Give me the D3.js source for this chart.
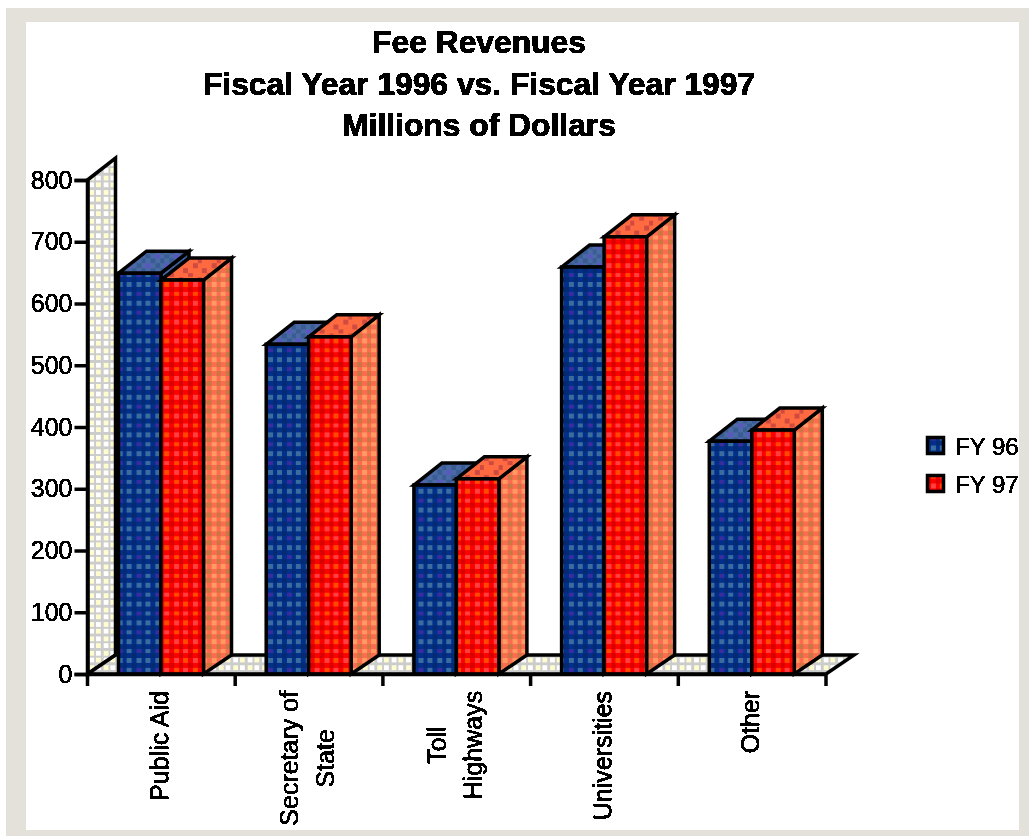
<!DOCTYPE html>
<html>
<head>
<meta charset="utf-8">
<script src="https://cdn.jsdelivr.net/npm/d3@7/dist/d3.min.js"></script>
<style>
html,body{margin:0;padding:0;background:#fff;overflow:hidden}
svg{display:block}
text{font-family:"Liberation Sans",Arial,sans-serif;fill:#000}
</style>
</head>
<body>
<div id="chart"></div>
<script>
const titleLines = ["Fee Revenues", "Fiscal Year 1996 vs. Fiscal Year 1997", "Millions of Dollars"];
const categories = ["Public Aid", "Secretary of State", "Toll Highways", "Universities", "Other"];
const categoryLines = [["Public Aid"], ["Secretary of", "State"], ["Toll", "Highways"], ["Universities"], ["Other"]];
const seriesNames = ["FY 96", "FY 97"];
const fy96 = [649, 534, 306, 659, 377];
const fy97 = [638, 546, 316, 708, 395];
const yTicks = [0, 100, 200, 300, 400, 500, 600, 700, 800];

const W = 1029, H = 836;
const svg = d3.select("#chart").append("svg").attr("width", W).attr("height", H);
const defs = svg.append("defs");

// aliased text, like the low-resolution original
const f = defs.append("filter").attr("id", "alias").attr("x", "-5%").attr("y", "-5%").attr("width", "110%").attr("height", "110%");
f.append("feComponentTransfer").append("feFuncA").attr("type", "discrete").attr("tableValues", "0 1 1");

function dither(id, cell, rows) {
  const n = rows.length, m = rows[0].length;
  const p = defs.append("pattern").attr("id", id).attr("patternUnits", "userSpaceOnUse")
    .attr("width", m * cell).attr("height", n * cell);
  rows.forEach((r, i) => r.forEach((c, j) => {
    p.append("rect").attr("x", j * cell).attr("y", i * cell).attr("width", cell).attr("height", cell)
      .attr("fill", c).attr("shape-rendering", "crispEdges");
  }));
}
const b = "#00308c", b2 = "#062a72", bl = "#3c6c9c", bp = "#3a2c9c";
dither("blueFront", 4.7, [
  [b, bl, b, bl],
  [b2, b, b2, b],
  [b, bp, b, bl],
  [b2, b, b2, b]]);
const r = "#ff0000", r2 = "#d80000", rl = "#ff4040", ro = "#ff4a00";
dither("redFront", 4.7, [
  [r, rl, r, ro],
  [r2, r, r2, r],
  [r, ro, r, rl],
  [r2, r, r2, r]]);
const s = "#ff6a50", s2 = "#c87840", sl = "#ff9a60";
dither("redSide", 4.7, [
  [s, sl, s, sl],
  [s2, s, s2, s],
  [s, sl, s, sl],
  [s2, s, s2, s]]);
const t = "#ff6a40", t2 = "#d04a40";
dither("redTop", 4.7, [
  [t, t2, t, t],
  [t, t, t, t2],
  [t2, t, t, t],
  [t, t, t2, t]]);
const u = "#4a6aa4", u2 = "#3a5c94", u3 = "#5a58c0";
dither("blueTop", 4.7, [
  [u, u2, u, u3],
  [u2, u, u2, u],
  [u, u3, u, u2],
  [u2, u, u2, u]]);
const g = "#cccccc", y1 = "#fffdd0", wh = "#ffffff";
dither("wall", 2.4, [
  [g, g, g, g, g, g],
  [g, y1, y1, g, wh, wh],
  [g, y1, y1, g, wh, wh],
  [g, g, g, g, g, g],
  [g, wh, wh, g, y1, y1],
  [g, wh, wh, g, y1, y1]]);

const xLeft = 87.5, xRight = 826, yBase = 674, yTop = 180;
const depthX = 28, depthY = 22, floorDY = 19, lineW = 3.5;

const x0 = d3.scaleBand().domain(categories).range([xLeft, xRight]);
const x1 = d3.scaleBand().domain(seriesNames).range([31, 116]);
const y = d3.scaleLinear().domain([0, 800]).range([yBase, yTop]);

const line = d3.line();
const poly = pts => line(pts) + "Z";

// wall and floor
svg.append("path")
  .attr("d", poly([[xLeft, y(800)], [xLeft + depthX, y(800) - depthY], [xLeft + depthX, yBase - floorDY], [xLeft, yBase]]))
  .attr("fill", "url(#wall)").attr("stroke", "#000").attr("stroke-width", lineW);
svg.append("path")
  .attr("d", poly([[xLeft, yBase], [xLeft + depthX, yBase - floorDY], [xRight + depthX, yBase - floorDY], [xRight, yBase]]))
  .attr("fill", "url(#wall)").attr("stroke", "#000").attr("stroke-width", lineW);

// bars
const seriesValues = [fy96, fy97];
const styles = [
  {front: "url(#blueFront)", top: "url(#blueTop)", side: "url(#blueTop)"},
  {front: "url(#redFront)", top: "url(#redTop)", side: "url(#redSide)"}
];
const bars = svg.append("g");
categories.forEach((c, i) => {
  seriesNames.forEach((sn, k) => {
    const v = seriesValues[k][i];
    const xa = x0(c) + x1(sn), xb = xa + x1.bandwidth(), yv = y(v);
    const st = styles[k];
    const gb = bars.append("g").attr("stroke", "#000").attr("stroke-width", lineW).attr("stroke-linejoin", "miter");
    gb.append("path").attr("fill", st.side)
      .attr("d", poly([[xb, yv], [xb + depthX, yv - depthY], [xb + depthX, yBase - floorDY], [xb, yBase]]));
    gb.append("path").attr("fill", st.top)
      .attr("d", poly([[xa, yv], [xa + depthX, yv - depthY], [xb + depthX, yv - depthY], [xb, yv]]));
    gb.append("rect").attr("x", xa).attr("y", yv).attr("width", xb - xa).attr("height", yBase - yv).attr("fill", st.front);
  });
});

// axes
const yAxis = svg.append("g").attr("transform", `translate(${xLeft},0)`)
  .call(d3.axisLeft(y).tickValues(yTicks).tickSize(13).tickPadding(2).tickFormat(d3.format("d")));
yAxis.select(".domain").attr("stroke", "#000").attr("stroke-width", lineW);
yAxis.selectAll(".tick line").attr("stroke", "#000").attr("stroke-width", lineW);
yAxis.selectAll(".tick text").attr("font-size", 25).attr("font-family", '"Liberation Sans"')
  .attr("stroke", "#000").attr("stroke-width", 0.3).attr("filter", "url(#alias)");

const xAxis = svg.append("g").attr("transform", `translate(0,${yBase})`)
  .call(d3.axisBottom(x0).tickFormat("").tickSizeOuter(0).tickSize(0));
xAxis.select(".domain").attr("stroke", "#000").attr("stroke-width", lineW);
xAxis.selectAll(".tick").remove();
xAxis.selectAll("line.edge").data(categories.map(c => x0(c)).concat([xRight])).enter()
  .append("line").attr("class", "edge").attr("x1", d => d).attr("x2", d => d).attr("y1", 0).attr("y2", 12)
  .attr("stroke", "#000").attr("stroke-width", lineW);

// category labels (rotated, wrapped, centred on the longest line)
const labelTop = 691, lineGap = 36;
categories.forEach((c, i) => {
  const lines = categoryLines[i];
  const cx = x0(c) + x0.bandwidth() / 2;
  const texts = lines.map((l, j) => {
    const px = cx + (j - (lines.length - 1) / 2) * lineGap;
    return svg.append("text").attr("font-size", 25).attr("text-anchor", "middle")
      .attr("stroke", "#000").attr("stroke-width", 0.3)
      .attr("filter", "url(#alias)").attr("data-x", px).text(l);
  });
  const maxLen = d3.max(texts, t => t.node().getComputedTextLength());
  texts.forEach(t => {
    t.attr("transform", `translate(${+t.attr("data-x") + 7},${labelTop + maxLen / 2}) rotate(-90)`);
  });
});

// title
const titleY = d3.scalePoint().domain(titleLines).range([53, 136]);
svg.append("g").selectAll("text").data(titleLines).enter().append("text")
  .attr("x", 479).attr("y", d => titleY(d)).attr("text-anchor", "middle")
  .attr("font-size", 31.8).attr("font-weight", "bold")
  .attr("stroke", "#000").attr("stroke-width", 0.6).attr("filter", "url(#alias)").text(d => d);

// legend
const legY = d3.scalePoint().domain(seriesNames).range([445.5, 483.5]);
const leg = svg.append("g").selectAll("g").data(seriesNames).enter().append("g")
  .attr("transform", d => `translate(926,${legY(d)})`);
leg.append("rect").attr("x", 1.5).attr("y", -8).attr("width", 16).attr("height", 16)
  .attr("fill", (d, i) => styles[i].front).attr("stroke", "#000").attr("stroke-width", lineW);
leg.append("text").attr("x", 29).attr("y", 9.5).attr("font-size", 24)
  .attr("stroke", "#000").attr("stroke-width", 0.3).attr("filter", "url(#alias)").text(d => d);

// window frame
svg.append("path").attr("fill-rule", "evenodd").attr("fill", "#e3e1da")
  .attr("d", "M6,8H1029V836H6Z M26,22H1019V830H26Z");
svg.append("path").attr("fill", "#fff").attr("d", "M0,0H1029V8H6V836H0Z");
</script>
</body>
</html>
